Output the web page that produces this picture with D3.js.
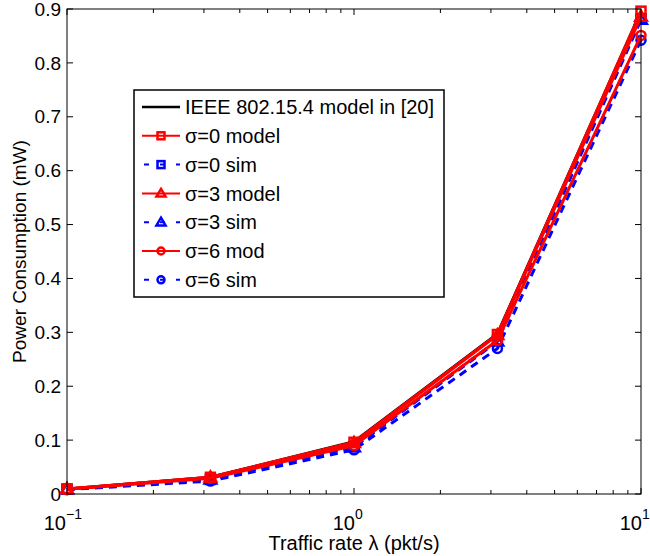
<!DOCTYPE html>
<html>
<head>
<meta charset="utf-8">
<script src="https://cdn.jsdelivr.net/npm/d3@7"></script>
<style>
  body { margin: 0; background: #fff; }
  text { font-family: "Liberation Sans", Arial, sans-serif; fill: #000; }
</style>
</head>
<body>
<div id="chart"></div>
<script>
const width = 650;
const height = 556;
const margin = { top: 9, right: 9, bottom: 62, left: 67 };

// traffic rates (pkt/s)
const rates = [0.1, 0.316, 1, 3.16, 10];

const ieeeModel = [0.0095, 0.031, 0.097, 0.297, 0.895];
const s0Model = [0.0095, 0.031, 0.096, 0.296, 0.896];
const s0Sim = [0.009, 0.027, 0.088, 0.285, 0.882];
const s3Model = [0.0095, 0.031, 0.095, 0.295, 0.886];
const s3Sim = [0.009, 0.027, 0.087, 0.283, 0.88];
const s6Model = [0.009, 0.029, 0.09, 0.285, 0.851];
const s6Sim = [0.008, 0.024, 0.082, 0.27, 0.842];

const yTicks = [0, 0.1, 0.2, 0.3, 0.4, 0.5, 0.6, 0.7, 0.8, 0.9];
const xTicks = [0.1, 1, 10];
const xTickExp = ['−1', '0', '1'];

const series = [
  { name: 'IEEE 802.15.4 model in [20]', values: ieeeModel, color: '#000', dash: null, marker: null },
  { name: 'σ=0 model', values: s0Model, color: '#ff0000', dash: null, marker: 'square' },
  { name: 'σ=0 sim', values: s0Sim, color: '#0000ff', dash: '8,6', marker: 'square' },
  { name: 'σ=3 model', values: s3Model, color: '#ff0000', dash: null, marker: 'triangle' },
  { name: 'σ=3 sim', values: s3Sim, color: '#0000ff', dash: '8,6', marker: 'triangle' },
  { name: 'σ=6 mod', values: s6Model, color: '#ff0000', dash: null, marker: 'circle' },
  { name: 'σ=6 sim', values: s6Sim, color: '#0000ff', dash: '8,6', marker: 'circle' },
];

const svg = d3.select('#chart').append('svg')
  .attr('width', width)
  .attr('height', height);

const x = d3.scaleLog()
  .domain([0.1, 10])
  .range([margin.left, width - margin.right]);

const y = d3.scaleLinear()
  .domain([0, 0.9])
  .range([height - margin.bottom, margin.top]);

const x0 = x.range()[0], x1 = x.range()[1];
const y0 = y.range()[0], y1 = y.range()[1];

// minor log ticks
const minorTicks = x.ticks().filter((t) => xTicks.indexOf(t) < 0);

const tickG = svg.append('g').attr('stroke', '#000').attr('stroke-width', 1);
xTicks.concat(minorTicks).forEach((t) => {
  const len = xTicks.indexOf(t) >= 0 ? 6 : 4;
  tickG.append('line').attr('x1', x(t)).attr('x2', x(t)).attr('y1', y0).attr('y2', y0 - len);
  tickG.append('line').attr('x1', x(t)).attr('x2', x(t)).attr('y1', y1).attr('y2', y1 + len);
});
yTicks.forEach((t) => {
  tickG.append('line').attr('x1', x0).attr('x2', x0 + 6).attr('y1', y(t)).attr('y2', y(t));
  tickG.append('line').attr('x1', x1).attr('x2', x1 - 6).attr('y1', y(t)).attr('y2', y(t));
});

// y tick labels
svg.append('g').selectAll('text')
  .data(yTicks)
  .enter()
  .append('text')
  .attr('x', x0 - 6)
  .attr('y', (d) => y(d))
  .attr('dy', '0.35em')
  .attr('text-anchor', 'end')
  .style('font-size', '19px')
  .text((d) => d === 0 ? '0' : d3.format('.1f')(d));

// x tick labels 10^n
const xl = svg.append('g').selectAll('g')
  .data(xTicks)
  .enter()
  .append('g')
  .attr('transform', (d) => `translate(${x(d)}, 530)`);
xl.append('text')
  .attr('x', (d, i) => i === 0 ? -1 : 1)
  .attr('text-anchor', 'end')
  .style('font-size', '20px')
  .text('10');
xl.append('text')
  .attr('x', (d, i) => i === 0 ? -1 : 1)
  .attr('y', -11)
  .style('font-size', '14px')
  .text((d, i) => xTickExp[i]);

// axis titles
svg.append('text')
  .attr('x', (x0 + x1) / 2)
  .attr('y', 550)
  .attr('text-anchor', 'middle')
  .style('font-size', '20px')
  .text('Traffic rate λ (pkt/s)');

svg.append('text')
  .attr('transform', `translate(26, ${(y0 + y1) / 2}) rotate(-90)`)
  .attr('text-anchor', 'middle')
  .style('font-size', '19px')
  .text('Power Consumption (mW)');

// lines
const line = d3.line()
  .x((d, i) => x(rates[i]))
  .y((d) => y(d));

const plot = svg.append('g');

function drawMarker(g, type, cx, cy, color, size) {
  if (type === 'square') {
    g.append('rect')
      .attr('x', cx - size / 2).attr('y', cy - size / 2)
      .attr('width', size).attr('height', size)
      .attr('fill', 'none').attr('stroke', color).attr('stroke-width', 2.5);
  } else if (type === 'triangle') {
    const s = size * 0.65;
    g.append('path')
      .attr('d', `M${cx},${cy - s}L${cx + s},${cy + s * 0.7}L${cx - s},${cy + s * 0.7}Z`)
      .attr('fill', 'none').attr('stroke', color).attr('stroke-width', 2.5);
  } else if (type === 'circle') {
    g.append('circle')
      .attr('cx', cx).attr('cy', cy).attr('r', size / 2)
      .attr('fill', 'none').attr('stroke', color).attr('stroke-width', 2.5);
  }
}

// draw sim (blue) first, then model lines over, as in the figure
const order = [2, 4, 6, 0, 1, 3, 5];
order.forEach((k) => {
  const s = series[k];
  plot.append('path')
    .datum(s.values)
    .attr('d', line)
    .attr('fill', 'none')
    .attr('stroke', s.color)
    .attr('stroke-width', 3)
    .attr('stroke-dasharray', s.dash);
  if (s.marker) {
    s.values.forEach((v, i) => drawMarker(plot, s.marker, x(rates[i]), y(v), s.color, 9));
  }
});

// frame
svg.append('rect')
  .attr('x', x0).attr('y', y1)
  .attr('width', x1 - x0).attr('height', y0 - y1)
  .attr('fill', 'none').attr('stroke', '#000').attr('stroke-width', 1);

// legend
const legX = 134, legY = 90, legW = 310, legH = 207, rowH = 28.8;
const leg = svg.append('g');
leg.append('rect')
  .attr('x', legX).attr('y', legY)
  .attr('width', legW).attr('height', legH)
  .attr('fill', '#fff').attr('stroke', '#000').attr('stroke-width', 1.5);

series.forEach((s, i) => {
  const cy = legY + 17 + i * rowH;
  leg.append('line')
    .attr('x1', legX + 8).attr('x2', legX + 46)
    .attr('y1', cy).attr('y2', cy)
    .attr('stroke', s.color)
    .attr('stroke-width', s.marker ? 2 : 2.5)
    .attr('stroke-dasharray', s.dash ? '5,11' : null)
    .attr('stroke-dashoffset', s.dash ? -2 : null);
  if (s.marker) drawMarker(leg, s.marker, legX + 27, cy, s.color, 7);
  leg.append('text')
    .attr('x', legX + 51)
    .attr('y', cy)
    .attr('dy', '0.36em')
    .style('font-size', '20px')
    .text(s.name);
});
</script>
</body>
</html>
